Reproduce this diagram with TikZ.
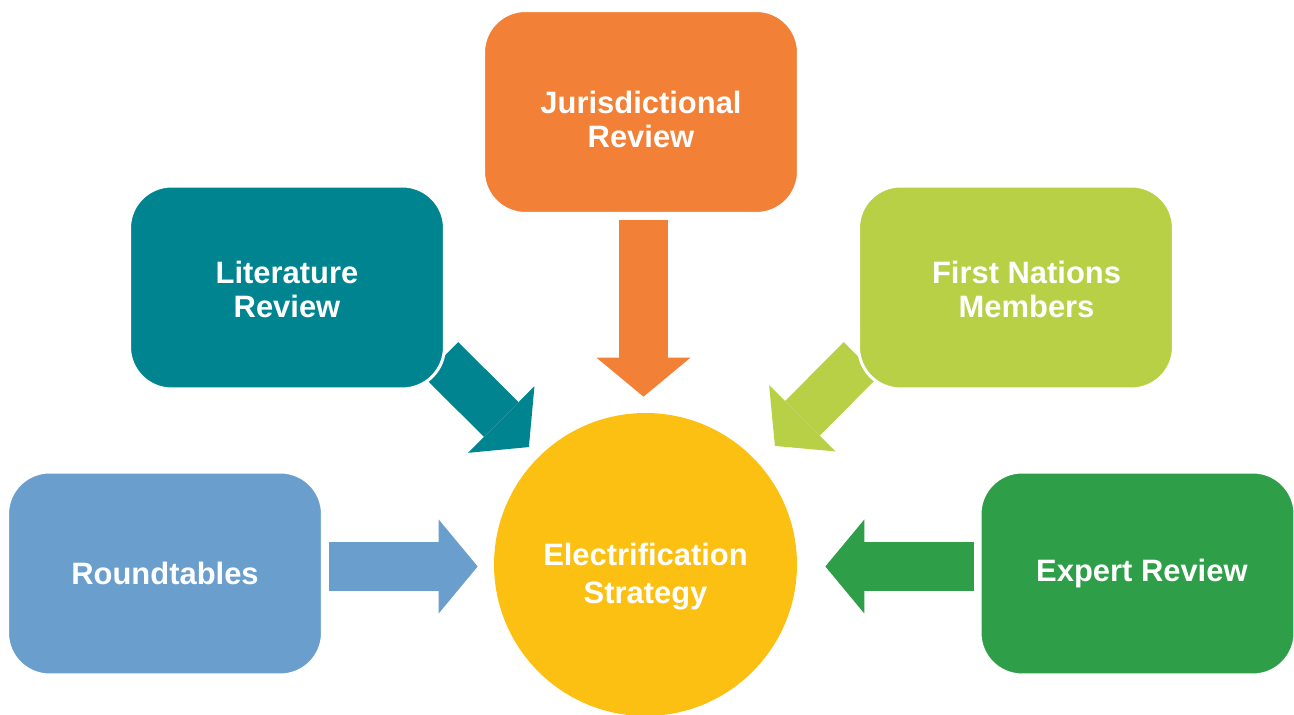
\documentclass[tikz,border=0pt]{standalone}
\usepackage{fontspec}
\setmainfont{Liberation Sans}
\usetikzlibrary{arrows.meta,backgrounds}
\definecolor{jurorange}{HTML}{F28037}
\definecolor{litteal}{HTML}{008590}
\definecolor{fngreen}{HTML}{B8D046}
\definecolor{rtblue}{HTML}{6A9FCD}
\definecolor{exgreen}{HTML}{2E9E48}
\definecolor{hubyellow}{HTML}{FBC011}

\begin{document}
\begin{tikzpicture}[
  x=0.02cm, y=0.02cm,
  font=\fontsize{17.6}{19.5}\selectfont\bfseries,
  revbox/.style={draw=white,line width=0.6mm,fill=#1,rounded corners=0.84cm,
    minimum width=6.3cm,minimum height=4.06cm,text=white,align=center,inner sep=0pt},
  hubnode/.style={circle,fill=hubyellow,minimum size=6.06cm,text=white,align=center,
    inner sep=0pt,font=\fontsize{17.6}{21.6}\selectfont\bfseries},
  bigarrow/.style={draw=#1,line width=9.8mm,
    -{Triangle[length=7.8mm,width=18.8mm,line width=0pt]}}
]
\useasboundingbox (0,0) rectangle (1294,715);
\node[hubnode] (core) at (645.5,150.5) {\rule{0pt}{26.5pt}Electrification\\Strategy};
\node[revbox=jurorange] (jur) at (641,603) {\rule{0pt}{21pt}Jurisdictional\\Review};
\node[revbox=litteal] (lit) at (287,427.5) {\rule{0pt}{15pt}Literature\\Review};
\node[revbox=fngreen] (fn) at (1016,427.5) {\rule{0pt}{15pt}\hspace{12pt}First Nations\\\hspace{12pt}Members};
\node[revbox=rtblue] (rt) at (165,141.5) {Roundtables};
\node[revbox=exgreen] (ex) at (1137.5,141.5) {\hspace{5pt}Expert Review};
% arrow ends
\coordinate (jurfoot) at ([shift={(2.5,-5)}]jur.south);
\coordinate (jurtip) at ([shift={(-2,16)}]core.north);
\coordinate (litfoot) at ([shift={(-5,31)}]lit.south east);
\coordinate (littip) at ([shift={(134.8:165.5)}]core.center);
\coordinate (fnfoot) at ([shift={(4,31)}]fn.south west);
\coordinate (fntip) at ([shift={(42.5:175.5)}]core.center);
\coordinate (rtfoot) at ([shift={(5,7)}]rt.east);
\coordinate (rttip) at ([shift={(-16,-2)}]core.west);
\coordinate (exfoot) at ([shift={(-5,7)}]ex.west);
\coordinate (extip) at ([shift={(28,-2)}]core.east);
\begin{scope}[on background layer]
\draw[bigarrow=jurorange] (jurfoot) -- (jurtip);
\draw[bigarrow=litteal] (litfoot) -- (littip);
\draw[bigarrow=fngreen] (fnfoot) -- (fntip);
\draw[bigarrow=rtblue] (rtfoot) -- (rttip);
\draw[bigarrow=exgreen] (exfoot) -- (extip);
\end{scope}
\end{tikzpicture}
\end{document}
